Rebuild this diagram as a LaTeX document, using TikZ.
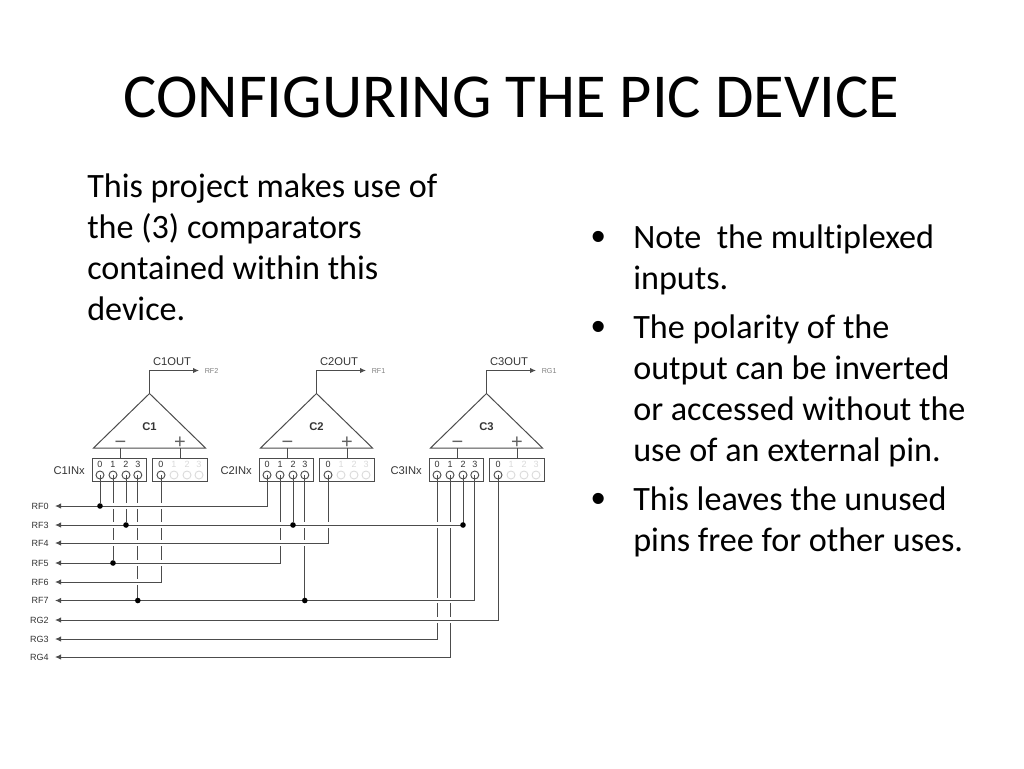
\documentclass[tikz,border=0pt]{standalone}
\usepackage{fontspec}
\setmainfont[Ligatures=CommonOff]{Carlito}
\newfontfamily\diagfont{Liberation Sans}
\usetikzlibrary{arrows.meta}
\tikzset{
	wire/.style={line width=0.75pt, draw=black!70},
	halo/.style={line width=4.2pt, draw=white},
	tip/.style={-{Latex[length=4.5pt,width=4pt]}},
	pinbox/.style={draw=black!70, line width=0.75pt, minimum width=41pt, minimum height=17.25pt, inner sep=0pt},
	pinhole/.style={circle, draw=black!70, line width=0.7pt, minimum size=6pt, inner sep=0pt},
	offhole/.style={circle, draw=black!14, line width=0.7pt, minimum size=6pt, inner sep=0pt},
	pinnum/.style={font=\diagfont\fontsize{6.75}{7}\selectfont, text=black!80, inner sep=0pt},
	offnum/.style={font=\diagfont\fontsize{6.75}{7}\selectfont, text=black!15, inner sep=0pt},
	smalltext/.style={font=\diagfont\fontsize{8.4}{9}\selectfont, text=black!80, inner sep=0pt},
	restext/.style={font=\diagfont\fontsize{5.4}{6}\selectfont, text=black!50, inner sep=0pt, anchor=west},
	pintext/.style={font=\diagfont\fontsize{6.75}{8}\selectfont, text=black!80, inner xsep=4.5pt, inner ysep=0pt, anchor=east},
	sign/.style={font=\diagfont\fontsize{15}{15}\selectfont, text=black!62, inner sep=0pt},
	jdot/.style={circle, fill=black, minimum size=4.2pt, inner sep=0pt},
	titletext/.style={font=\fontsize{46.9}{50}\selectfont, inner sep=0pt},
	bodytext/.style={font=\fontsize{25.6}{30.75}\selectfont, inner sep=0pt, anchor=north west, align=left},
	bulletmark/.style={font=\diagfont\fontsize{30.7}{31}\selectfont, inner sep=0pt, anchor=base},
}
\begin{document}
\begin{tikzpicture}[x=0.75pt,y=-0.75pt]
	\useasboundingbox (0,0) rectangle (1024,768);
	\node[titletext] (title) at (511.5,97) {CONFIGURING THE PIC DEVICE};
	\node[bodytext] (intro) at (87,174) {This project makes use of\\the (3) comparators\\contained within this\\device.};
	\node[bodytext] (note) at (633,225) {Note\ \ the multiplexed\\inputs.};
	\node[bodytext] (polarity) at (633,315) {The polarity of the\\output can be inverted\\or accessed without the\\use of an external pin.};
	\node[bodytext] (leaves) at (633,487) {This leaves the unused\\pins free for other uses.};
	\foreach \t in {note,polarity,leaves}
		\node[bulletmark] (mark\t) at ([xshift=-25.5pt,yshift=-18.75pt]\t.north west) {•};

	% the three comparators
	\foreach \n/\x/\res in {1/149.5/RF2, 2/316.5/RF1, 3/486.5/RG1} {
		\coordinate (apex\n) at (\x,393.5);
		\coordinate (base\n) at (\x,448);
		\coordinate (out\n) at (\x+49.5,370.5);
		\draw[wire] (apex\n) -- ++(56,54.5) -- ++(-112,0) -- cycle;
		\draw[wire, tip] (apex\n) |- (out\n);
		\node[smalltext] (outname\n) at (\x+22.5,361.5) {C\n OUT};
		\node[restext] (res\n) at (\x+55,371) {\res};
		\node[smalltext, font=\diagfont\bfseries\fontsize{8.4}{9}\selectfont] (name\n) at (\x,426.5) {C\n};
		\node[sign] (minus\n) at (\x-29,445) {−};
		\node[sign] (plus\n) at (\x+30.5,443) {+};
		\node[pinbox] (mbox\n) at (\x-30,469.5) {};
		\node[pinbox] (pbox\n) at (\x+30.5,469.5) {};
		\draw[wire] (minus\n |- base\n) -- (minus\n |- mbox\n.north);
		\draw[wire] (plus\n |- base\n) -- (plus\n |- pbox\n.north);
		\node[smalltext, anchor=east] (inx\n) at (\x-64.5,471) {C\n INx};
		\foreach \i/\dx in {0/-49.5,1/-36.5,2/-23.5,3/-11.7}
			\node[pinhole, label={[pinnum, label distance=2pt]above:\i}] (p\n\i) at (\x+\dx,475) {};
		\node[pinhole, label={[pinnum, label distance=2pt]above:0}] (q\n0) at (\x+11.5,475) {};
		\foreach \i/\dx in {1/24.5,2/37.5,3/49.5}
			\node[offhole, label={[offnum, label distance=2pt]above:\i}] (q\n\i) at (\x+\dx,475) {};
	}

	% port names on the left
	\foreach \b/\s/\y in {rf0/RF0/506, rf3/RF3/525, rf4/RF4/543, rf5/RF5/563, rf6/RF6/582, rf7/RF7/600.5, rg2/RG2/620, rg3/RG3/639, rg4/RG4/657}
		\node[pintext] (\b) at (55,\y) {\s};

	% verticals first, the buses then break them
	\foreach \p/\b in {p10/rf0, p11/rf5, p12/rf3, p13/rf7, q10/rf6, p20/rf0, p21/rf5, p22/rf3, p23/rf7, q20/rf4, p30/rg3, p31/rg4, p32/rf3, p33/rf7, q30/rg2}
		\draw[wire] (\p.center) -- (\p |- \b);
	\foreach \b/\p in {rf0/p20, rf3/p32, rf4/q20, rf5/p21, rf6/q10, rf7/p33, rg2/q30, rg3/p30, rg4/p31} {
		\draw[halo] (\p |- \b) -- (\b.east);
		\draw[wire, tip] (\p |- \b) -- (\b.east);
		\draw[wire, line cap=rect] (\p |- \b) -- ([yshift=4pt]\p |- \b);
	}
	\foreach \p/\b in {p10/rf0, p11/rf5, p12/rf3, p22/rf3, p32/rf3, p13/rf7, p23/rf7}
		\node[jdot] (dot\p) at (\p |- \b) {};
\end{tikzpicture}
\end{document}
